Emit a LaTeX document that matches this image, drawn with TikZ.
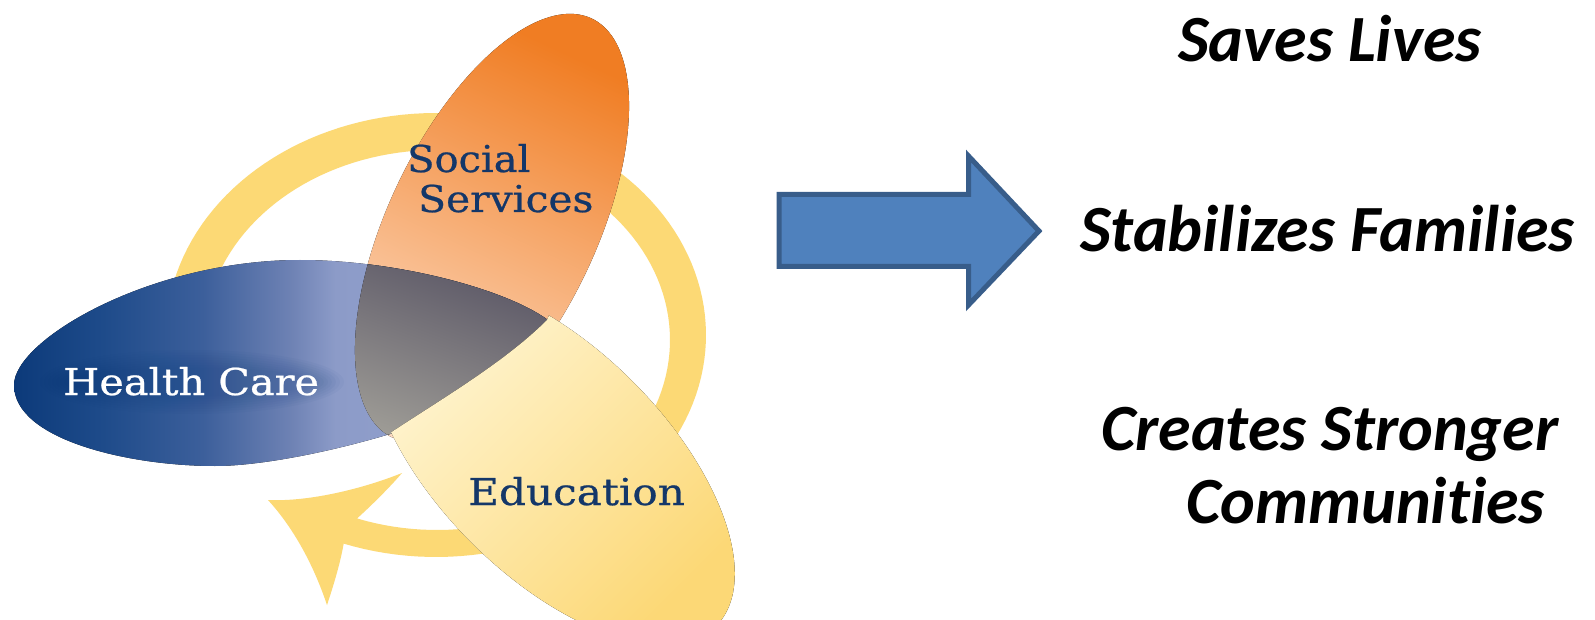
\documentclass[tikz,border=0pt]{standalone}
\usepackage{fontspec}
\usepackage{graphicx}
\setmainfont{DejaVu Serif}
\newfontfamily\petalfont{DejaVu Serif}[FakeBold=0.6]
\newfontfamily\claimfont{Carlito}[Ligatures=NoCommon]

% palette
\definecolor{ringgold}{RGB}{252,217,117}
\definecolor{petalnavy}{RGB}{20,55,105}
\definecolor{arrowfill}{RGB}{79,129,189}
\definecolor{arrowline}{RGB}{56,93,138}
\definecolor{hcA}{RGB}{12,58,122}
\definecolor{hcB}{RGB}{30,75,138}
\definecolor{hcC}{RGB}{60,95,155}
\definecolor{hcD}{RGB}{110,130,180}
\definecolor{hcE}{RGB}{140,155,200}
\definecolor{hcF}{RGB}{152,166,210}
\definecolor{ssTop}{RGB}{240,125,35}
\definecolor{ssMid}{RGB}{246,162,100}
\definecolor{ssBot}{RGB}{253,218,192}
\definecolor{ovTop}{RGB}{84,80,97}
\definecolor{ovMid}{RGB}{118,110,110}
\definecolor{ovBot}{RGB}{158,156,150}
\definecolor{edTop}{RGB}{255,246,214}
\definecolor{edMid}{RGB}{253,232,168}
\definecolor{edBot}{RGB}{252,216,118}

% left-to-right blue of the Health Care petal
\pgfdeclarehorizontalshading{healthshade}{100bp}{color(0bp)=(hcA); color(25bp)=(hcA); color(33bp)=(hcB); color(42bp)=(hcC); color(50bp)=(hcD); color(54bp)=(hcE); color(75bp)=(hcF); color(100bp)=(hcF)}

\tikzset{
  petallabel/.style={inner sep=0pt, anchor=base west, text=petalnavy,
    font=\petalfont\fontsize{37}{40}\selectfont},
  claim/.style={inner sep=0pt, anchor=base west, text=black,
    font=\claimfont\bfseries\itshape\fontsize{66}{72}\selectfont},
  bigarrow/.style={fill=arrowfill, draw=arrowline, line width=5pt, line join=miter},
  cycleband/.style={fill=ringgold},
  glow/.style={fill=hcA, opacity=0.035}
}

\begin{document}
\begin{tikzpicture}[x=1pt,y=-1pt]
\useasboundingbox (0,0) rectangle (1595,620);
\fill[white] (0,0) rectangle (1595,620);

% circular band ending in the curved arrowhead
\fill[cycleband]
  plot[domain=150:470, samples=140, variable=\t] ({436+270*cos(\t)}, {335+222*sin(\t)})
  .. controls (340,565) and (332,590) .. (327,605)
  .. controls (318,578) and (300,535) .. (268,500)
  .. controls (310,502) and (365,488) .. (402,473)
  .. controls (390,487) and (372,505) .. (357,518.5)
  -- plot[domain=470:150, samples=140, variable=\t] ({437+233*cos(\t)}, {340+190*sin(\t)})
  -- cycle;

% Social Services petal (ellipse, major axis 64.5 deg)
\fill[top color=ssTop, middle color=ssMid, bottom color=ssBot, shading angle=-25]
  plot[domain=0:360, samples=181, variable=\t]
    ({492+232*cos(\t)*0.4305+104*sin(\t)*0.9026}, {228-232*cos(\t)*0.9026+104*sin(\t)*0.4305}) -- cycle;

% Health Care petal (egg shape, blunt on the left)
\fill[shading=healthshade]
  (14,385) .. controls (14,340) and (150,260) .. (300,260)
  .. controls (420,260) and (560,305) .. (566,343)
  .. controls (568,375) and (470,415) .. (390,434)
  .. controls (330,452) and (260,466) .. (215,466)
  .. controls (130,466) and (14,440) .. (14,385) -- cycle;

% soft shadow behind the Health Care label
\foreach \k in {1,...,8}
  \fill[glow] (192,382) ellipse [x radius={120+4*\k}, y radius={12+2.5*\k}];

% overlap of Health Care and Social Services
\begin{scope}
  \clip (14,385) .. controls (14,340) and (150,260) .. (300,260)
  .. controls (420,260) and (560,305) .. (566,343)
  .. controls (568,375) and (470,415) .. (390,434)
  .. controls (330,452) and (260,466) .. (215,466)
  .. controls (130,466) and (14,440) .. (14,385) -- cycle;
  \clip plot[domain=0:360, samples=181, variable=\t]
    ({492+232*cos(\t)*0.4305+104*sin(\t)*0.9026}, {228-232*cos(\t)*0.9026+104*sin(\t)*0.4305}) -- cycle;
  \fill[top color=ovTop, middle color=ovMid, bottom color=ovBot, shading angle=-20] (340,255) rectangle (600,450);
\end{scope}

% Education petal (ellipse, major axis -45 deg), meeting the overlap along a curve
\begin{scope}
  \clip (390,433) .. controls (440,400) and (505,362) .. (547,320)
    -- (560,290) -- (800,290) -- (800,640) -- (330,640) -- (380,445) -- cycle;
  \fill[top color=edTop, middle color=edMid, bottom color=edBot, shading angle=45]
    plot[domain=0:360, samples=181, variable=\t]
      ({552+232*cos(\t)*0.7071-114*sin(\t)*0.7071}, {462+232*cos(\t)*0.7071+114*sin(\t)*0.7071}) -- cycle;
\end{scope}

% petal labels
\node[petallabel] (social) at (407,172) {\scalebox{1.08}[1]{Social}};
\node[petallabel] (services) at (418,212) {\scalebox{1.1}[1]{Services}};
\node[petallabel, text=white] (health) at (63,395) {\scalebox{1.12}[1]{Health Care}};
\node[petallabel] (education) at (468,505) {\scalebox{1.14}[1]{Education}};

% block arrow
\draw[bigarrow] (779,194.5) -- (968.5,194.5) -- (968.5,156) -- (1039,231)
  -- (968.5,305) -- (968.5,266.5) -- (779,266.5) -- cycle;

% outcomes
\node[claim] (saves) at (1178,62) {Saves Lives};
\node[claim] (stabilizes) at (1080,252) {Stabilizes Families};
\node[claim] (creates) at (1101,450) {Creates Stronger};
\node[claim] (communities) at (1186,523) {Communities};
\end{tikzpicture}
\end{document}
